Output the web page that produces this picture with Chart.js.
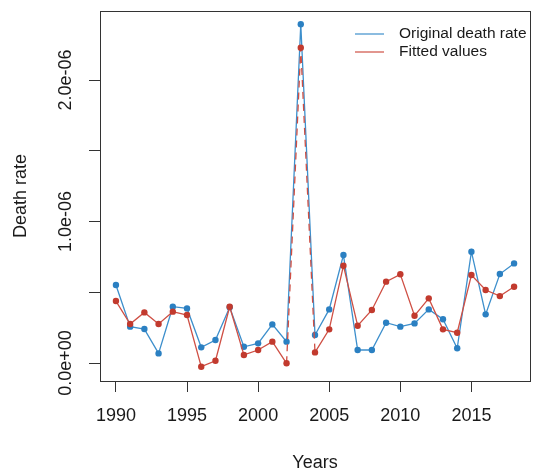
<!DOCTYPE html>
<html><head><meta charset="utf-8">
<script src="https://cdn.jsdelivr.net/npm/chart.js@4.4.1/dist/chart.umd.min.js"></script>
<style>html,body{margin:0;padding:0;background:#fff}#wrap{width:534px;height:472px}</style>
</head><body><div id="wrap"><canvas id="c" width="534" height="472"></canvas></div>
<script>
const years = [1990,1991,1992,1993,1994,1995,1996,1997,1998,1999,2000,2001,2002,2003,2004,2005,2006,2007,2008,2009,2010,2011,2012,2013,2014,2015,2016,2017,2018];
const originalRate = [0.551e-6,0.257e-6,0.240e-6,0.068e-6,0.398e-6,0.386e-6,0.111e-6,0.163e-6,0.394e-6,0.115e-6,0.139e-6,0.273e-6,0.151e-6,2.394e-6,0.198e-6,0.379e-6,0.763e-6,0.092e-6,0.092e-6,0.285e-6,0.257e-6,0.280e-6,0.379e-6,0.309e-6,0.104e-6,0.787e-6,0.344e-6,0.629e-6,0.704e-6];
const fittedValues = [0.438e-6,0.276e-6,0.358e-6,0.276e-6,0.363e-6,0.339e-6,-0.026e-6,0.016e-6,0.398e-6,0.057e-6,0.092e-6,0.151e-6,-0.002e-6,2.228e-6,0.075e-6,0.238e-6,0.688e-6,0.264e-6,0.375e-6,0.575e-6,0.627e-6,0.334e-6,0.457e-6,0.238e-6,0.214e-6,0.622e-6,0.516e-6,0.473e-6,0.539e-6];
const xTicks = [1990,1995,2000,2005,2010,2015];
const yTicks = [0,0.5e-6,1.0e-6,1.5e-6,2.0e-6];
const yTickLabels = ["0.0e+00","","1.0e-06","","2.0e-06"];
const seriesNames = ["Original death rate","Fitted values"];
const xTitle = "Years";
const yTitle = "Death rate";

const FONT = "'Liberation Sans', Arial, sans-serif";
const BLUE = '#2b80c2', BLUE_L = '#3d8fcc';
const RED = '#c23a2e', RED_L = '#cf4f44';
const TXT = '#1a1a1a', AX = '#333333';

const boxPlugin = {
  id: 'box',
  afterDraw(chart) {
    const {ctx, chartArea: a, scales} = chart;
    ctx.save();
    ctx.strokeStyle = AX; ctx.lineWidth = 1;
    ctx.strokeRect(Math.round(a.left)+0.5, Math.round(a.top)+0.5, Math.round(a.right-a.left), Math.round(a.bottom-a.top));
    // y tick labels (rotated, R style)
    const ys = scales.y;
    ctx.fillStyle = TXT; ctx.font = '18px ' + FONT;
    ctx.textAlign = 'center'; ctx.textBaseline = 'middle';
    yTicks.forEach((v, i) => {
      const lab = yTickLabels[i];
      if (!lab) return;
      const py = ys.getPixelForValue(v);
      ctx.save(); ctx.translate(66, py); ctx.rotate(-Math.PI/2);
      ctx.fillText(lab, 0, 0); ctx.restore();
    });
    // legend
    ctx.font = '15.5px ' + FONT; ctx.textAlign = 'left';
    const cols = [BLUE_L, RED_L];
    seriesNames.forEach((n, i) => {
      const yy = 34 + i*18;
      ctx.strokeStyle = cols[i]; ctx.lineWidth = 1.2;
      ctx.beginPath(); ctx.moveTo(355, yy); ctx.lineTo(384, yy); ctx.stroke();
      ctx.fillStyle = TXT; ctx.fillText(n, 399, yy);
    });
    ctx.restore();
  }
};

const spikeDash = ctx => (ctx.p0DataIndex === 12 || ctx.p0DataIndex === 13) ? [7,5] : undefined;

new Chart(document.getElementById('c'), {
  type: 'line',
  data: {
    datasets: [
      { label: seriesNames[0], data: years.map((y,i)=>({x:y, y:originalRate[i]})),
        borderColor: BLUE_L, backgroundColor: BLUE, pointBackgroundColor: BLUE, pointBorderColor: BLUE,
        borderWidth: 1.3, pointRadius: 3.2, pointBorderWidth: 0, tension: 0, order: 2 },
      { label: seriesNames[1], data: years.map((y,i)=>({x:y, y:fittedValues[i]})),
        borderColor: RED_L, backgroundColor: RED, pointBackgroundColor: RED, pointBorderColor: RED,
        borderWidth: 1.3, pointRadius: 3.2, pointBorderWidth: 0, tension: 0, order: 1,
        segment: { borderDash: spikeDash } }
    ]
  },
  options: {
    responsive: false, animation: false, devicePixelRatio: 1,
    layout: { padding: { top: 11, right: 4, bottom: 0, left: 0 } },
    plugins: { legend: { display: false }, tooltip: { enabled: false } },
    scales: {
      x: {
        type: 'linear', min: 1988.88, max: 2019.12,
        afterBuildTicks: s => { s.ticks = xTicks.map(v => ({value: v})); },
        afterFit: s => { s.height = 91; },
        grid: { display: true, drawOnChartArea: false, drawTicks: true, tickLength: 11, color: AX, lineWidth: 1 },
        border: { display: false },
        ticks: { color: TXT, font: { family: FONT, size: 18 }, padding: 13, maxRotation: 0, autoSkip: false,
                 callback: v => String(v) },
        title: { display: true, text: xTitle, color: TXT, font: { family: FONT, size: 18, lineHeight: 1 }, padding: { top: 0, bottom: 0 } }
      },
      y: {
        type: 'linear', min: -0.127e-6, max: 2.488e-6,
        afterBuildTicks: s => { s.ticks = yTicks.map(v => ({value: v})); },
        afterFit: s => { s.width = 100; },
        grid: { display: true, drawOnChartArea: false, drawTicks: true, tickLength: 11, color: AX, lineWidth: 1 },
        border: { display: false },
        ticks: { display: false },
        title: { display: true, text: yTitle, color: TXT, font: { family: FONT, size: 18, lineHeight: 1 }, padding: { top: 12, bottom: 0 } }
      }
    }
  },
  plugins: [boxPlugin]
});
</script></body></html>
